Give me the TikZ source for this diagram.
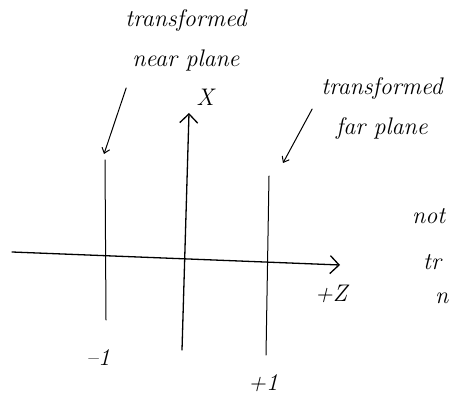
\documentclass[tikz,border=0pt]{standalone}
\usepackage{fontspec}
\usepackage{tikz}
\usetikzlibrary{arrows.meta}
\tikzset{
  pen/.style={line width=1.3pt, line cap=round},
  thinpen/.style={line width=1pt, line cap=round},
  axis/.style={pen, -{Straight Barb[length=9pt, width=18pt, line width=1.3pt]}},
  pointer/.style={thinpen, -{Straight Barb[length=5pt, width=8pt, line width=1pt]}},
  note/.style={font=\fontsize{24}{40}\selectfont\itshape, inner sep=1pt, align=center}
}
\begin{document}
\begin{tikzpicture}[x=1pt, y=-1pt]
\useasboundingbox (0,0) rectangle (452,403);
% axes
\coordinate (zstart) at (12,252);
\coordinate (zend) at (340,265);
\coordinate (xstart) at (182,350);
\coordinate (xend) at (189,113);
\draw[axis] (zstart) -- (zend);
\draw[axis] (xstart) -- (xend);
% planes
\coordinate (neartop) at (105,160);
\coordinate (nearbot) at (106,320);
\coordinate (fartop) at (269,176);
\coordinate (farbot) at (266,355);
\draw[thinpen] (neartop) -- (nearbot);
\draw[thinpen] (fartop) -- (farbot);
% labels
\node[note] (xlbl) at (205,97) {X};
\node[note] (zlbl) at (331,294) {+Z};
\node[note] (minusone) at (98,358) {--1};
\node[note] (plusone) at (263,383) {+1};
\node[note] (nearlbl) at (186,40) {transformed\\near plane};
\node[note] (farlbl) at (382,109) {transformed\\far plane};
\node[note, anchor=west] (notlbl) at (411,216) {not};
\node[note, anchor=west] (trlbl) at (422,262) {tr};
\node[note, anchor=west] (nlbl) at (434,298) {n};
% pointers
\coordinate (neartip) at (104,154);
\coordinate (fartip) at (283,163);
\draw[pointer] ([xshift=2pt, yshift=-16pt]nearlbl.south west) -- (neartip);
\draw[pointer] ([xshift=-8pt]farlbl.west) -- (fartip);
\end{tikzpicture}
\end{document}
